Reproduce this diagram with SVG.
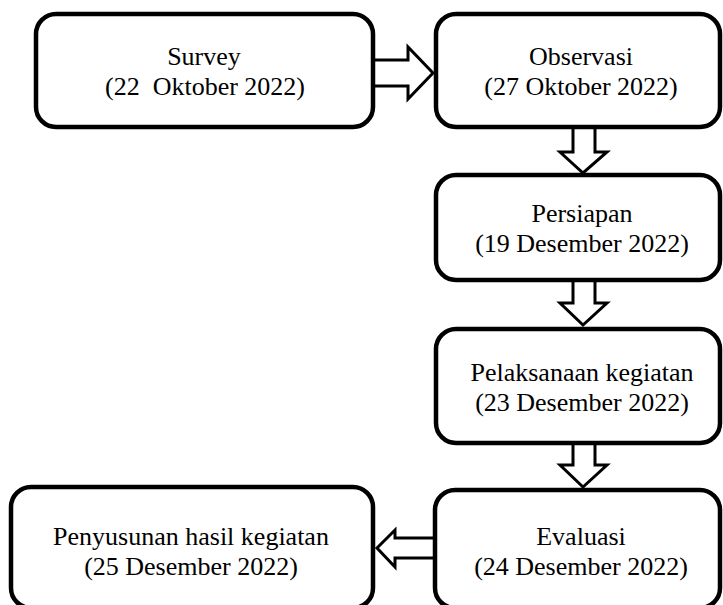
<svg xmlns="http://www.w3.org/2000/svg" width="723" height="605" viewBox="0 0 723 605">
<style>
.box{fill:#fff;stroke:#000;stroke-width:4.5}
.t{font-family:"Liberation Serif","Times New Roman",serif;font-size:26px;fill:#000;text-anchor:middle;white-space:pre}
.arr{fill:#fff;stroke:#000;stroke-width:3;stroke-linejoin:miter}
</style>
<rect width="723" height="605" fill="#fff"/>
<g id="connectors">
<path class="arr" d="M373,60 L408,60 L408,47 L433,73 L408,99 L408,86 L373,86"/>
<path class="arr" d="M573,127 L573,152 L560,152 L583,173 L607,152 L595,152 L595,127"/>
<path class="arr" d="M573,280 L573,303 L560,303 L583,325 L607,303 L595,303 L595,280"/>
<path class="arr" d="M573,443 L573,465 L560,465 L583,487 L607,465 L595,465 L595,443"/>
<path class="arr" d="M435,538 L395,538 L395,530 L377,548 L395,567 L395,558 L435,558"/>
</g>
<g id="survey">
<rect class="box" x="36" y="14" width="337" height="113" rx="20"/>
<text class="t" x="204" y="65">Survey</text>
<text class="t" x="205" y="95">(22  Oktober 2022)</text>
</g>
<g id="observasi">
<rect class="box" x="436" y="14" width="284" height="113" rx="20"/>
<text class="t" x="581" y="65">Observasi</text>
<text class="t" x="581" y="95">(27 Oktober 2022)</text>
</g>
<g id="persiapan">
<rect class="box" x="436" y="175" width="284" height="105" rx="20"/>
<text class="t" x="582" y="222">Persiapan</text>
<text class="t" x="582" y="252">(19 Desember 2022)</text>
</g>
<g id="pelaksanaan">
<rect class="box" x="436" y="329" width="284" height="114" rx="20"/>
<text class="t" x="582" y="381">Pelaksanaan kegiatan</text>
<text class="t" x="582" y="411">(23 Desember 2022)</text>
</g>
<g id="evaluasi">
<rect class="box" x="435" y="490" width="285" height="118" rx="20"/>
<text class="t" x="581" y="545">Evaluasi</text>
<text class="t" x="581" y="575">(24 Desember 2022)</text>
</g>
<g id="penyusunan">
<rect class="box" x="11" y="487" width="362" height="121" rx="20"/>
<text class="t" x="191" y="545">Penyusunan hasil kegiatan</text>
<text class="t" x="191" y="575">(25 Desember 2022)</text>
</g>
</svg>
